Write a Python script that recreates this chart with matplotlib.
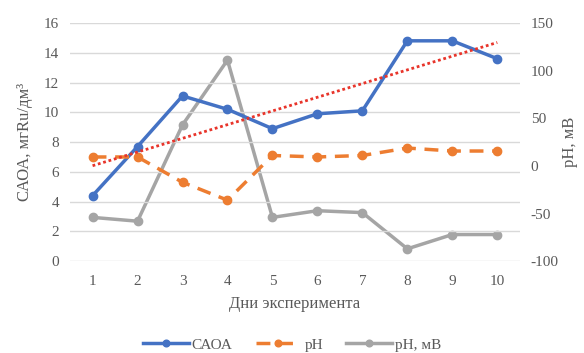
import numpy as np
import matplotlib
matplotlib.use('Agg')
import matplotlib.pyplot as plt

days = [1, 2, 3, 4, 5, 6, 7, 8, 9, 10]
caoa = [4.4, 7.7, 11.1, 10.2, 8.9, 9.9, 10.1, 14.8, 14.8, 13.6]
ph = [7.0, 7.0, 5.3, 4.1, 7.1, 7.0, 7.1, 7.6, 7.4, 7.4]
ph_mv = [-54, -58, 43, 111, -54, -47, -49, -87, -72, -72]

plt.rcParams['font.family'] = ['Liberation Serif', 'DejaVu Serif']
plt.rcParams['axes.unicode_minus'] = False
text_col = '#595959'

fig = plt.figure(figsize=(5.84, 3.53), dpi=100)
ax = fig.add_axes([0.12, 0.26, 0.77, 0.675])
ax2 = ax.twinx()

blue = '#4472C4'
orange = '#ED7D31'
grey = '#A5A5A5'

l1, = ax.plot(days, caoa, color=blue, lw=2.5, marker='o', ms=6, label='САОА', zorder=4)
l2, = ax.plot(days, ph, color=orange, lw=2.5, ls=(0, (4, 2.5)), marker='o', ms=6, label='pH', zorder=4)
l3, = ax2.plot(days, ph_mv, color=grey, lw=2.5, marker='o', ms=6, label='pH, мВ')

# linear trend of CAOA
k, b = np.polyfit(days, caoa, 1)
xs = np.array([days[0], days[-1]])
ax.plot(xs, k * xs + b, color='#E8342A', lw=2, ls=(0, (1, 1)), zorder=5)

ax.set_xlim(0.5, 10.5)
ax.set_ylim(0, 16)
ax.set_yticks(range(0, 17, 2))
ax2.set_ylim(-100, 150)
ax2.set_yticks(range(-100, 151, 50))
ax.set_xticks(days)

ax.grid(axis='y', color='#D9D9D9', lw=1)
ax.set_axisbelow(True)
for a in (ax, ax2):
    for s in a.spines.values():
        s.set_visible(False)
    a.tick_params(length=0, labelsize=11, colors=text_col)
ax.tick_params(axis='x', pad=10)
ax.tick_params(axis='y', pad=8)
ax2.tick_params(axis='y', pad=8)

ax.set_zorder(ax2.get_zorder() + 1)
ax.patch.set_visible(False)

ax.set_xlabel('Дни эксперимента', fontsize=12, color=text_col, labelpad=6)
ax.set_ylabel('САОА, мгRu/дм³', fontsize=12, color=text_col, labelpad=8)
ax2.set_ylabel('pH, мВ', fontsize=12, color=text_col, labelpad=2)

fig.legend([l1, l2, l3], ['САОА', 'pH', 'pH, мВ'], loc='lower center',
           bbox_to_anchor=(0.5, -0.035), ncol=3, frameon=False, fontsize=11,
           labelcolor=text_col, handlelength=3, handletextpad=0.2,
           columnspacing=1.5, markerscale=0.8)

fig.savefig('out.png', dpi=100)
